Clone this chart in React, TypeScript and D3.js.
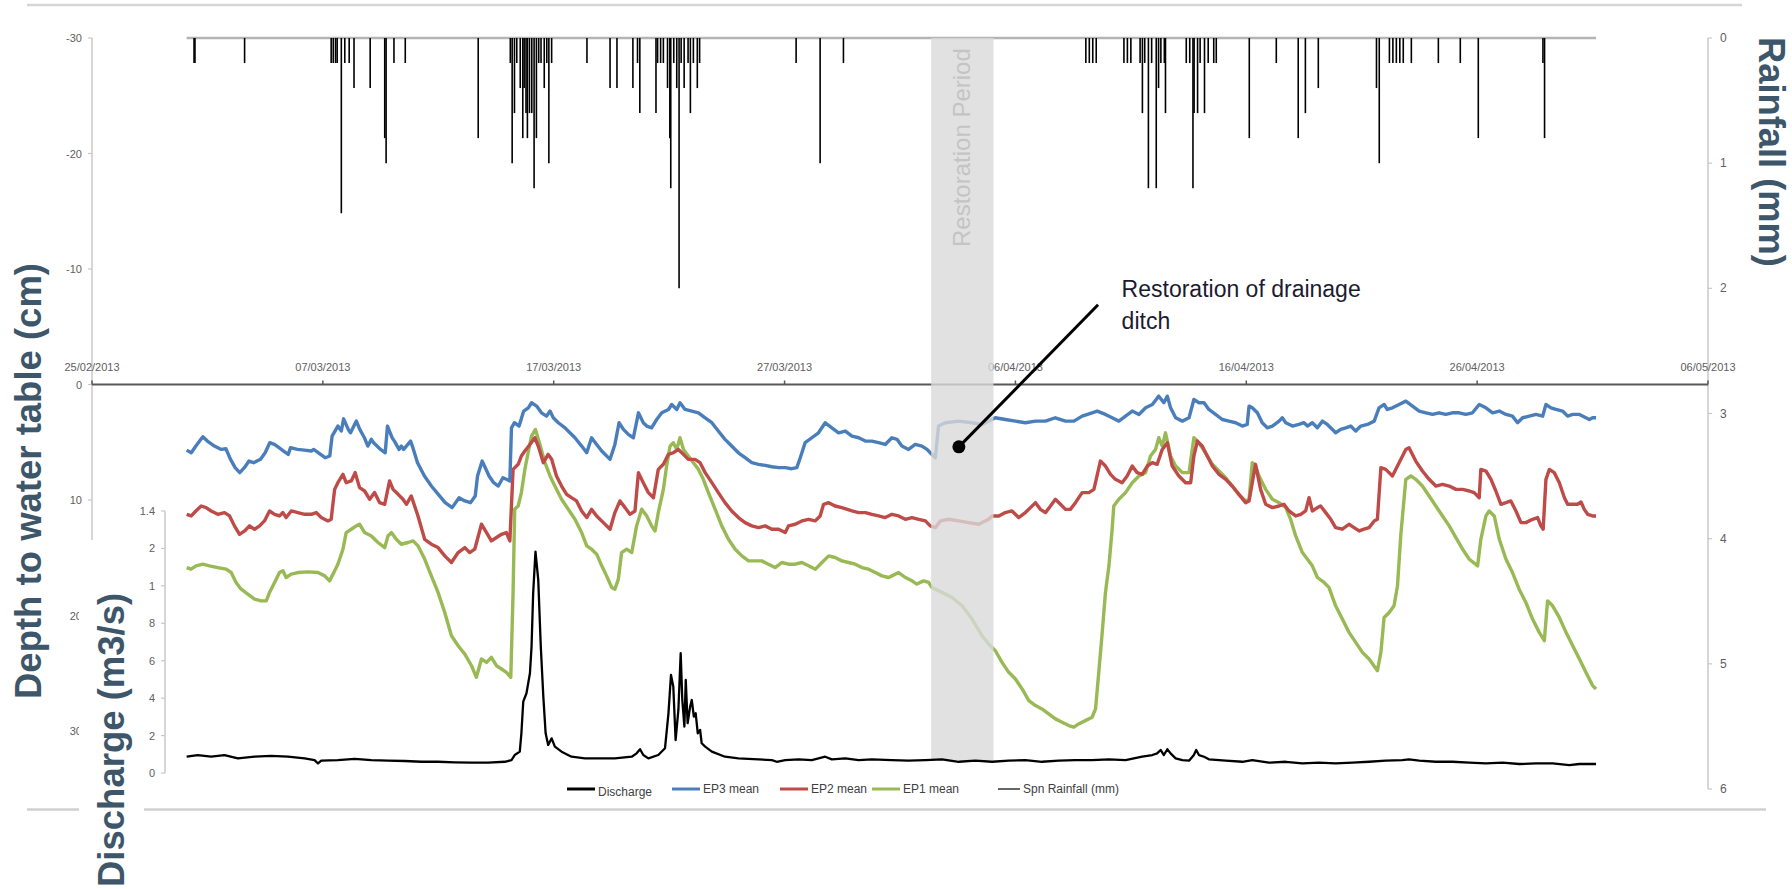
import React from "react";
import * as d3 from "d3";

type P = [number, number];

// time t = days since 01/03/2013 00:00
const dateTickLabels = ["25/02/2013", "07/03/2013", "17/03/2013", "27/03/2013", "06/04/2013", "16/04/2013", "26/04/2013", "06/05/2013"];
const depthTicks = [-30, -20, -10, 0, 10, 20, 30];
const rainTicks = [0, 1, 2, 3, 4, 5, 6];
const dischargeTicks = [0, 0.2, 0.4, 0.6, 0.8, 1.0, 1.2, 1.4];
const dischargeTickLabels = ["0", "2", "4", "6", "8", "1", "2", "1.4"];
const restorationPeriod: P = [32.35, 35.05];

const ep3: P[] = [
[0.1,5.68],[0.3,5.91],[0.5,5.33],[0.8,4.52],[1.0,4.90],[1.3,5.33],[1.6,5.62],[1.8,5.56],[2.0,6.48],[2.2,7.20],[2.4,7.63],[2.6,7.20],[2.8,6.63],[3.0,6.77],[3.3,6.48],[3.5,5.91],[3.7,5.04],[3.9,5.19],[4.1,5.47],[4.3,5.76],[4.5,6.05],[4.6,5.47],[4.9,5.62],[5.2,5.68],[5.5,5.76],[5.6,5.62],[5.9,6.05],[6.1,6.34],[6.3,6.19],[6.4,4.47],[6.65,3.60],[6.8,4.03],[6.9,2.97],[7.1,3.89],[7.2,4.18],[7.45,3.17],[7.6,3.89],[7.8,4.61],[7.95,5.33],[8.1,4.75],[8.2,5.04],[8.5,5.62],[8.7,5.91],[8.8,3.60],[9.0,4.61],[9.1,4.90],[9.3,5.62],[9.4,5.33],[9.5,5.62],[9.8,4.90],[9.9,5.47],[10.1,6.77],[10.4,7.92],[10.7,8.79],[11.0,9.51],[11.3,10.23],[11.6,10.66],[11.9,9.80],[12.15,10.08],[12.4,10.23],[12.6,9.65],[12.7,7.92],[12.9,6.63],[13.0,7.06],[13.2,7.92],[13.4,8.50],[13.6,8.79],[13.8,8.07],[13.95,8.21],[14.1,8.35],[14.17,3.75],[14.3,3.31],[14.5,3.60],[14.7,2.30],[14.9,2.02],[15.04,1.58],
[15.26,1.87],[15.47,2.45],[15.69,2.74],[15.84,2.30],[15.98,2.88],[16.2,3.31],[16.49,3.75],[16.7,4.18],[16.92,4.61],[17.21,5.33],[17.43,5.91],[17.64,4.61],[17.86,5.19],[18.08,5.76],[18.44,6.48],[18.65,5.19],[18.83,3.31],[19.02,3.89],[19.23,4.32],[19.45,4.61],[19.67,2.45],[19.88,3.31],[20.03,3.60],[20.24,3.75],[20.46,3.03],[20.68,2.45],[20.97,2.16],[21.11,1.73],[21.33,2.16],[21.47,1.58],[21.69,2.16],[21.98,2.30],[22.27,2.45],[22.56,2.88],[22.85,3.31],[23.13,4.03],[23.42,4.75],[23.71,5.33],[24.0,5.91],[24.29,6.34],[24.58,6.77],[24.87,6.91],[25.16,7.0],[25.45,7.12],[25.74,7.2],[26.03,7.2],[26.31,7.29],[26.53,7.2],[26.68,6.34],[26.89,5.04],[27.18,4.61],[27.47,4.18],[27.76,3.31],[28.05,3.75],[28.34,4.18],[28.63,4.03],[28.92,4.47],[29.21,4.61],[29.5,4.90],[29.78,4.90],[30.07,5.04],[30.36,5.19],[30.65,4.61],
[30.87,4.75],[31.08,5.33],[31.37,5.62],[31.66,5.19],[31.95,5.33],[32.17,5.62],[32.31,5.91],[32.53,6.34],[32.67,3.60],[32.96,3.31],[33.54,3.17],[34.12,3.31],[34.55,3.46],[34.84,3.17],[35.13,2.88],[35.56,3.03],[36.0,3.17],[36.43,3.31],[36.87,3.17],[37.3,3.17],[37.73,2.88],[38.17,3.17],[38.53,3.17],[38.89,2.74],[39.32,2.45],[39.54,2.30],[39.9,2.59],[40.19,2.88],[40.48,3.17],[40.77,2.74],[41.06,2.30],[41.35,2.59],[41.64,2.02],[41.93,1.73],[42.21,1.01],[42.43,1.58],[42.58,1.01],[42.72,2.02],[42.94,2.88],[43.23,3.17],[43.52,2.88],[43.73,1.30],[43.95,1.58],[44.17,1.58],[44.38,2.16],[44.67,2.59],[44.96,3.03],[45.25,3.17],[45.54,3.31],[45.83,3.60],[46.04,3.46],[46.12,1.87],[46.26,2.02],
[46.48,2.45],[46.69,3.31],[46.91,3.75],[47.13,3.60],[47.42,3.17],[47.56,2.88],[47.71,3.31],[48.0,3.60],[48.28,3.46],[48.5,3.31],[48.65,3.60],[48.86,3.31],[49.08,3.75],[49.3,3.17],[49.51,3.46],[49.73,3.89],[49.87,4.18],[50.09,3.89],[50.31,3.75],[50.52,3.60],[50.74,4.03],[50.96,3.60],[51.25,3.46],[51.54,3.17],[51.75,2.02],[51.97,1.73],[52.11,2.16],[52.33,2.02],[52.62,1.73],[52.91,1.44],[53.2,1.87],[53.49,2.30],[53.78,2.45],[54.07,2.59],[54.35,2.45],[54.64,2.59],[54.93,2.45],[55.22,2.45],[55.51,2.59],[55.8,2.45],[56.09,1.73],[56.38,2.02],[56.67,2.45],[56.96,2.30],[57.25,2.59],[57.53,2.74],[57.75,3.31],[57.97,2.88],[58.26,2.74],[58.55,2.59],[58.84,2.74],[58.98,1.73],[59.2,2.02],[59.41,2.16],[59.7,2.30],[59.92,2.74],[60.14,2.59],[60.43,2.59],[60.71,2.88],[60.86,3.03],[61.0,2.88],[61.15,2.88]
];

const ep2: P[] = [
[0.1,11.24],[0.3,11.38],[0.5,10.95],[0.73,10.52],[0.94,10.66],[1.16,10.95],[1.45,11.24],[1.74,11.09],[1.96,11.38],[2.17,12.24],[2.39,12.97],[2.61,12.68],[2.82,12.24],[3.04,12.53],[3.26,12.24],[3.47,11.81],[3.69,10.95],[3.91,11.24],[4.12,11.38],[4.27,11.09],[4.41,11.52],[4.63,10.95],[4.92,11.09],[5.21,11.24],[5.5,11.24],[5.71,11.09],[5.93,11.52],[6.22,11.81],[6.36,11.67],[6.51,9.08],[6.65,8.50],[6.87,7.78],[7.01,8.50],[7.23,8.35],[7.4,7.63],[7.59,8.93],[7.81,9.22],[8.03,9.94],[8.24,9.36],[8.46,10.23],[8.68,10.37],[8.89,8.35],[9.04,9.08],[9.26,9.51],[9.47,9.94],[9.62,10.37],[9.83,9.65],[10.12,11.38],[10.41,13.40],[10.7,13.83],[10.99,14.12],[11.28,14.84],[11.57,15.41],[11.86,14.55],[12.15,14.12],[12.36,14.55],[12.58,14.26],[12.87,12.10],[13.09,12.82],[13.3,13.54],[13.52,13.25],[13.74,12.97],[13.95,12.82],[14.1,13.54],[14.24,7.35],[14.46,6.91],[14.6,6.19],[14.75,5.76],[14.97,5.19],
[15.18,4.61],[15.33,5.33],[15.55,6.77],[15.76,6.05],[15.91,6.48],[16.12,7.92],[16.34,8.79],[16.56,9.51],[16.77,9.80],[16.99,10.08],[17.21,10.95],[17.43,11.52],[17.64,10.81],[17.86,11.38],[18.15,11.96],[18.44,12.53],[18.65,11.09],[18.87,10.08],[19.09,10.66],[19.3,11.24],[19.52,10.95],[19.67,7.63],[19.88,8.50],[20.1,9.36],[20.32,9.80],[20.53,7.35],[20.75,6.91],[20.97,6.05],[21.18,5.91],[21.4,5.62],[21.62,6.05],[21.83,6.48],[22.12,6.48],[22.34,6.77],[22.56,7.63],[22.85,8.50],[23.13,9.36],[23.42,10.23],[23.71,10.95],[24.0,11.52],[24.29,11.96],[24.58,12.24],[24.87,12.39],[25.16,12.24],[25.45,12.53],[25.74,12.53],[26.03,12.82],[26.17,12.24],[26.46,12.10],[26.75,11.81],[27.04,11.67],[27.33,11.81],[27.54,11.38],[27.69,10.37],[27.91,10.23],[28.19,10.52],[28.48,10.66],[28.92,10.95],[29.21,11.09],[29.5,11.09],[29.78,11.24],[30.07,11.38],[30.36,11.52],[30.65,11.24],
[30.94,11.38],[31.23,11.67],[31.52,11.52],[31.81,11.67],[32.1,11.81],[32.31,12.24],[32.53,12.39],[32.75,11.81],[33.11,11.67],[33.54,11.81],[33.97,11.96],[34.41,12.10],[34.84,11.67],[34.99,11.38],[35.28,11.38],[35.56,11.09],[35.85,10.95],[36.14,11.52],[36.43,11.09],[36.65,10.66],[36.87,10.23],[37.08,10.81],[37.3,11.09],[37.52,10.52],[37.73,9.94],[37.95,10.37],[38.17,10.81],[38.38,10.81],[38.6,10.23],[38.89,9.36],[39.18,9.36],[39.4,9.08],[39.68,6.63],[39.9,7.06],[40.12,7.78],[40.33,8.21],[40.62,8.50],[40.84,7.92],[41.06,7.06],[41.27,7.63],[41.49,7.78],[41.71,7.06],[41.93,6.77],[42.14,6.91],[42.36,5.62],[42.58,5.04],[42.79,7.06],[43.08,7.92],[43.37,8.50],[43.59,8.50],[43.73,6.19],[43.88,4.90],[44.09,5.33],[44.31,6.19],[44.53,7.06],[44.82,7.78],[45.11,8.21],[45.39,8.79],[45.68,9.51],[45.97,10.23],[46.12,10.08],
[46.4,6.91],[46.62,9.08],[46.84,10.37],[47.13,10.66],[47.42,10.52],[47.63,10.37],[47.85,10.95],[48.14,11.38],[48.36,11.24],[48.57,10.95],[48.72,9.80],[48.86,10.95],[49.08,10.66],[49.22,10.52],[49.44,11.09],[49.66,11.67],[49.87,12.39],[50.16,12.53],[50.45,12.10],[50.67,12.39],[50.89,12.68],[51.1,12.53],[51.32,12.39],[51.54,11.81],[51.68,11.67],[51.83,7.20],[52.04,7.35],[52.33,7.92],[52.62,6.77],[52.91,5.62],[53.05,5.47],[53.34,6.63],[53.63,7.49],[53.92,8.21],[54.21,8.79],[54.5,8.64],[54.79,8.79],[55.08,9.08],[55.37,9.08],[55.66,9.22],[55.87,9.36],[56.09,9.80],[56.16,7.35],[56.38,7.49],[56.6,8.21],[56.81,9.22],[57.03,10.37],[57.25,10.23],[57.46,10.08],[57.68,10.95],[57.9,11.96],[58.11,11.96],[58.4,11.67],[58.62,11.52],[58.76,12.24],[58.86,12.53],[58.98,8.21],[59.13,7.35],[59.34,7.63],[59.56,8.50],[59.78,9.80],[59.92,10.37],[60.14,10.37],[60.35,10.37],[60.5,10.17],[60.64,10.81],[60.79,11.24],[61.0,11.38],[61.15,11.38]
];

const ep1: P[] = [
[0.1,15.85],[0.29,15.99],[0.51,15.70],[0.8,15.56],[1.09,15.70],[1.45,15.85],[1.81,15.99],[2.03,16.28],[2.24,17.14],[2.46,17.72],[2.75,18.15],[3.04,18.58],[3.33,18.73],[3.55,18.73],[3.69,18.0],[3.91,17.14],[4.12,16.28],[4.27,16.13],[4.41,16.71],[4.63,16.42],[4.92,16.28],[5.35,16.22],[5.79,16.28],[6.08,16.57],[6.29,17.0],[6.44,16.42],[6.65,15.56],[6.87,14.26],[7.01,12.82],[7.23,12.53],[7.45,12.24],[7.59,12.10],[7.81,12.82],[8.1,13.11],[8.39,13.68],[8.68,14.12],[8.82,13.11],[8.97,12.82],[9.18,13.40],[9.4,13.83],[9.69,13.68],[9.91,13.54],[10.12,13.97],[10.41,15.11],[10.7,16.57],[10.99,18.0],[11.28,19.74],[11.57,21.75],[11.86,22.62],[12.15,23.34],[12.44,24.35],[12.65,25.35],[12.87,23.77],[13.09,24.06],[13.3,23.62],[13.52,24.35],[13.74,24.63],[13.95,24.92],[14.14,25.35],[14.24,18.0],[14.31,10.80],[14.46,10.52],[14.6,9.36],[14.75,7.35],[14.89,5.91],[15.04,4.47],
[15.21,3.89],[15.4,5.19],[15.62,6.77],[15.84,7.92],[16.05,8.79],[16.34,9.94],[16.63,10.80],[16.92,11.67],[17.21,12.82],[17.43,13.97],[17.64,14.26],[17.86,14.69],[18.08,15.70],[18.29,16.57],[18.51,17.57],[18.65,17.72],[18.8,16.85],[18.94,14.55],[19.16,14.26],[19.38,14.55],[19.59,12.24],[19.81,10.80],[20.03,11.38],[20.24,12.24],[20.39,12.68],[20.53,11.09],[20.75,9.08],[20.89,7.06],[21.04,5.33],[21.18,5.04],[21.33,5.62],[21.47,4.61],[21.62,5.62],[21.83,6.19],[22.05,6.77],[22.27,7.35],[22.48,8.21],[22.7,9.36],[22.99,10.80],[23.28,12.24],[23.57,13.40],[23.86,14.26],[24.15,14.84],[24.44,15.27],[24.72,15.27],[25.01,15.27],[25.3,15.56],[25.59,15.85],[25.88,15.41],[26.17,15.56],[26.46,15.56],[26.75,15.41],[27.04,15.70],[27.33,15.99],[27.62,15.41],[27.91,14.84],[28.19,14.98],[28.48,15.27],[28.77,15.41],[29.06,15.56],[29.35,15.85],[29.64,15.99],[29.93,16.28],[30.22,16.57],[30.51,16.71],[30.65,16.57],
[30.94,16.28],[31.23,16.71],[31.52,17.0],[31.73,17.28],[32.02,17.0],[32.24,17.14],[32.38,17.57],[32.82,18.0],[33.25,18.44],[33.69,19.16],[34.12,20.31],[34.55,21.75],[34.91,22.62],[35.13,23.05],[35.42,24.06],[35.71,24.92],[36.0,25.5],[36.29,26.36],[36.58,27.37],[36.87,27.8],[37.15,28.09],[37.44,28.52],[37.73,28.95],[38.02,29.24],[38.31,29.53],[38.53,29.67],[38.74,29.39],[39.03,29.10],[39.32,28.81],[39.47,28.09],[39.61,24.92],[39.76,21.46],[39.9,18.0],[40.05,15.70],[40.19,12.53],[40.26,10.52],[40.48,9.94],[40.77,9.36],[41.06,8.50],[41.35,7.92],[41.64,7.63],[41.85,6.19],[42.07,5.62],[42.21,4.61],[42.36,5.33],[42.5,4.18],[42.72,6.19],[42.94,7.06],[43.23,7.63],[43.52,7.63],[43.73,4.61],[43.88,4.90],[44.09,5.47],[44.31,6.19],[44.53,6.91],[44.82,7.49],[45.11,8.07],[45.39,8.79],[45.68,9.51],[45.97,10.08],[46.12,9.94],
[46.26,6.77],[46.4,7.06],[46.55,7.92],[46.84,9.08],[47.13,9.94],[47.42,10.23],[47.71,10.66],[47.92,11.67],[48.14,13.11],[48.43,14.55],[48.65,15.13],[48.86,15.70],[49.08,16.71],[49.37,17.14],[49.58,17.57],[49.87,19.16],[50.16,20.31],[50.45,21.46],[50.74,22.33],[51.03,23.19],[51.32,23.77],[51.68,24.78],[51.83,23.19],[51.97,20.17],[52.19,19.74],[52.4,19.16],[52.55,17.43],[52.69,13.11],[52.91,8.21],[53.13,7.92],[53.34,8.21],[53.63,8.79],[53.92,9.65],[54.21,10.52],[54.5,11.38],[54.79,12.24],[55.08,13.25],[55.37,14.26],[55.66,15.13],[56.02,15.70],[56.16,13.40],[56.38,11.38],[56.52,10.95],[56.74,11.38],[56.96,13.40],[57.25,15.13],[57.53,16.28],[57.82,17.72],[58.11,18.87],[58.4,20.31],[58.69,21.46],[58.91,22.18],[59.05,18.73],[59.27,19.16],[59.56,20.17],[59.85,21.46],[60.14,22.62],[60.43,23.77],[60.71,24.92],[61.0,26.07],[61.15,26.36]
];

const discharge: P[] = [
[0.1,0.087],[0.58,0.096],[1.16,0.087],[1.74,0.096],[2.32,0.078],[3.04,0.087],[3.76,0.091],[4.49,0.087],[5.21,0.078],[5.64,0.069],[5.79,0.051],[5.93,0.066],[6.65,0.069],[7.38,0.075],[8.10,0.069],[8.82,0.066],[9.54,0.064],[10.27,0.060],[10.99,0.060],[11.71,0.057],[12.44,0.055],[13.16,0.055],[13.88,0.060],[14.17,0.069],[14.31,0.096],[14.53,0.114],[14.6,0.212],[14.68,0.381],[14.82,0.426],[14.97,0.533],[15.04,0.676],[15.11,0.961],[15.21,1.183],[15.33,1.032],[15.44,0.676],[15.55,0.408],[15.65,0.212],[15.76,0.150],[15.91,0.185],[16.05,0.141],[16.34,0.114],[16.77,0.087],[17.35,0.078],[17.93,0.078],[18.65,0.078],[19.38,0.087],[19.59,0.105],[19.74,0.127],[19.88,0.096],[20.1,0.078],[20.53,0.096],[20.82,0.132],[20.97,0.319],[21.08,0.524],[21.18,0.462],[21.28,0.176],[21.4,0.337],[21.5,0.640],[21.57,0.390],[21.66,0.248],[21.72,0.497],[21.8,0.266],[21.91,0.355],[21.98,0.390],[22.07,0.301],[22.15,0.319],[22.24,0.212],[22.34,0.230],[22.41,0.159],[22.56,0.141],[22.85,0.114],[23.42,0.087],[24.0,0.078],[24.87,0.073],[25.45,0.069],[25.66,0.060],[26.03,0.069],[26.6,0.073],[27.18,0.069],[27.76,0.087],[28.05,0.073],[28.63,0.078],[29.21,0.069],[29.78,0.073],[30.65,0.069],
[31.37,0.066],[32.10,0.069],[32.82,0.073],[33.54,0.060],[34.26,0.066],[34.99,0.060],[35.71,0.066],[36.43,0.069],[37.15,0.060],[37.88,0.066],[38.60,0.069],[39.32,0.069],[40.05,0.073],[40.77,0.069],[41.49,0.087],[41.93,0.096],[42.14,0.105],[42.29,0.123],[42.43,0.096],[42.58,0.127],[42.72,0.105],[42.94,0.078],[43.23,0.069],[43.52,0.066],[43.73,0.096],[43.83,0.123],[43.95,0.096],[44.17,0.087],[44.38,0.073],[45.11,0.066],[45.83,0.060],[46.26,0.069],
[46.98,0.055],[47.71,0.060],[48.43,0.051],[49.15,0.055],[49.87,0.051],[50.60,0.055],[51.32,0.060],[52.04,0.066],[52.76,0.069],[53.05,0.073],[53.49,0.066],[54.21,0.060],[54.93,0.060],[55.66,0.055],[56.38,0.051],[57.10,0.055],[57.82,0.048],[58.55,0.051],[59.27,0.051],[59.99,0.042],[60.43,0.048],[60.71,0.048],[61.15,0.048]
];

const rainfall: P[] = [
[0.42,0.2],[0.46,0.2],[2.61,0.2],
[6.36,0.2],[6.45,0.2],[6.55,0.2],[6.62,0.2],[6.80,1.4],[6.95,0.2],[7.14,0.2],[7.35,0.4],[8.05,0.4],[8.68,0.8],[8.74,1.0],[9.08,0.2],[9.57,0.2],
[12.73,0.8],
[14.12,0.2],[14.2,1.0],[14.3,0.6],[14.4,0.2],[14.55,0.4],[14.66,0.8],[14.72,0.4],[14.8,0.6],[14.86,0.8],[14.95,0.6],[15.05,0.6],[15.15,1.2],[15.25,0.8],[15.35,0.2],[15.45,0.2],[15.59,0.4],[15.7,0.2],[15.79,1.0],[15.91,0.2],
[17.44,0.2],[18.44,0.4],[18.74,0.4],[19.43,0.4],[19.63,0.2],[19.73,0.6],
[20.43,0.6],[20.5,0.2],[20.63,0.2],[20.75,0.2],[20.93,0.4],[21.03,0.8],[21.07,1.2],[21.2,0.2],[21.33,0.4],[21.43,2.0],[21.52,0.2],[21.65,0.4],[21.82,0.2],[21.92,0.6],[22.05,0.2],[22.22,0.4],[22.32,0.2],
[26.50,0.2],[27.54,1.0],[28.55,0.2],
[39.05,0.2],[39.2,0.2],[39.35,0.2],[39.5,0.2],
[40.7,0.2],[40.85,0.2],[41.0,0.2],
[41.4,0.2],[41.5,0.6],[41.6,0.2],[41.76,1.2],[41.9,0.2],[42.1,1.2],[42.2,0.4],[42.3,0.2],[42.45,0.2],[42.5,0.6],
[43.4,0.2],[43.55,0.2],[43.69,1.2],[43.74,0.6],[43.89,0.6],[44.0,0.2],[44.19,0.6],[44.35,0.2],[44.59,0.2],[44.7,0.2],
[46.13,0.8],[47.3,0.2],[48.25,0.8],[48.56,0.6],[49.12,0.4],
[51.64,0.4],[51.76,1.0],
[52.2,0.2],[52.35,0.2],[52.5,0.2],[52.65,0.2],[52.8,0.2],[53.15,0.2],
[54.32,0.2],[55.27,0.2],[56.05,0.8],[58.85,0.2],[58.92,0.8]
];

const legendNames = ["Discharge", "EP3 mean", "EP2 mean", "EP1 mean", "Spn Rainfall (mm)"];
const legendColors = ["#000000", "#4a7ebb", "#be4b48", "#98b954", "#000000"];

// annotation anchors in data coordinates (t, depth)
const annotTarget: P = [33.55, 5.4];
const annotStart: P = [39.58, -6.9];
const annotLabelAt: P = [40.6, -7.6];

const W = 1792, H = 889;
const FONT = "'Liberation Sans', Arial, Helvetica, sans-serif";
const TITLE = "#3d566a";
const T0 = Date.UTC(2013, 2, 1);
const toDate = (t: number) => new Date(T0 + t * 86400000);
const parseDay = d3.utcParse("%d/%m/%Y");

export default function App() {
  const x = d3.scaleUtc().domain([parseDay("25/02/2013")!, parseDay("06/05/2013")!]).range([92, 1708]);
  const yDepth = d3.scaleLinear().domain([-30, 30]).range([38, 731]);
  const yRain = d3.scaleLinear().domain([0, 6]).range([38, 789]);
  const yQ = d3.scaleLinear().domain([0, 1.4]).range([773, 511]);
  const xt = (t: number) => x(toDate(t));

  const depthLine = d3.line<P>().x(d => xt(d[0])).y(d => yDepth(d[1]));
  const qLine = d3.line<P>().x(d => xt(d[0])).y(d => yQ(d[1]));

  const axisX = yDepth(0);
  const dataStart = xt(d3.min(ep3, d => d[0])!);
  const bandX0 = xt(restorationPeriod[0]);
  const bandX1 = xt(restorationPeriod[1]);

  const legendX = [567, 672, 780, 872, 998];
  const legendY = 789;

  return (
    <svg width={W} height={H} viewBox={`0 0 ${W} ${H}`} style={{ position: "absolute", left: 0, top: 0, background: "#fff" }} fontFamily={FONT}>
      <rect x={0} y={0} width={W} height={H} fill="#ffffff" />
      {/* frame lines */}
      <line x1={27} x2={1742} y1={5} y2={5} stroke="#d6d6d6" strokeWidth={2.5} />
      <line x1={27} x2={1766} y1={809.5} y2={809.5} stroke="#d0d0d0" strokeWidth={2.5} />

      {/* left depth axis */}
      <line x1={92} x2={92} y1={yDepth(-30)} y2={yDepth(30)} stroke="#c8c8c8" strokeWidth={1.5} />
      {depthTicks.map(v => (
        <g key={"dt" + v}>
          <line x1={88} x2={92} y1={yDepth(v)} y2={yDepth(v)} stroke="#c8c8c8" strokeWidth={1.2} />
          <text x={82} y={yDepth(v) + 4} fontSize={11} fill="#606060" textAnchor="end">{v}</text>
        </g>
      ))}

      {/* right rainfall axis */}
      <line x1={1708} x2={1708} y1={yRain(0)} y2={yRain(6)} stroke="#c8c8c8" strokeWidth={1.5} />
      {rainTicks.map(v => (
        <g key={"rt" + v}>
          <line x1={1708} x2={1712} y1={yRain(v)} y2={yRain(v)} stroke="#c8c8c8" strokeWidth={1.2} />
          <text x={1720} y={yRain(v) + 4} fontSize={12} fill="#606060">{v}</text>
        </g>
      ))}

      {/* rainfall baseline and bars */}
      <line x1={dataStart} x2={xt(61.15)} y1={yRain(0)} y2={yRain(0)} stroke="#b4b4b4" strokeWidth={2.5} />
      {rainfall.map((d, i) => (
        <line key={"r" + i} x1={xt(d[0])} x2={xt(d[0])} y1={yRain(0)} y2={yRain(d[1])} stroke="#000" strokeWidth={1.6} />
      ))}

      {/* date axis */}
      {dateTickLabels.map(s => {
        const px = x(parseDay(s)!);
        return (
          <g key={s}>
            <line x1={px} x2={px} y1={axisX - 4} y2={axisX} stroke="#595959" strokeWidth={1.5} />
            <text x={px} y={371} fontSize={11} fill="#606060" textAnchor="middle">{s}</text>
          </g>
        );
      })}
      <line x1={92} x2={1708} y1={axisX} y2={axisX} stroke="#595959" strokeWidth={2} />

      {/* water table series */}
      <path d={depthLine(ep1)!} fill="none" stroke={legendColors[3]} strokeWidth={3.4} strokeLinejoin="round" />
      <path d={depthLine(ep2)!} fill="none" stroke={legendColors[2]} strokeWidth={3.4} strokeLinejoin="round" />
      <path d={depthLine(ep3)!} fill="none" stroke={legendColors[1]} strokeWidth={3.4} strokeLinejoin="round" />

      {/* restoration band */}
      <rect x={bandX0} y={yRain(0)} width={bandX1 - bandX0} height={760 - yRain(0)} fill="#d9d9d9" opacity={0.8} />
      <text transform={`translate(970,247) rotate(-90)`} fontSize={24} fill="#c4c4c4">Restoration Period</text>

      {/* discharge */}
      <path d={qLine(discharge)!} fill="none" stroke="#000" strokeWidth={2.3} strokeLinejoin="round" />

      {/* white box behind discharge title */}
      <rect x={79} y={540} width={65} height={H - 540} fill="#ffffff" />

      {/* discharge axis */}
      <line x1={165} x2={165} y1={yQ(1.4)} y2={yQ(0)} stroke="#c8c8c8" strokeWidth={1.5} />
      {dischargeTicks.map((v, i) => (
        <g key={"qt" + i}>
          <line x1={161} x2={165} y1={yQ(v)} y2={yQ(v)} stroke="#c8c8c8" strokeWidth={1.2} />
          <text x={155} y={yQ(v) + 4} fontSize={11} fill="#606060" textAnchor="end">{dischargeTickLabels[i]}</text>
        </g>
      ))}

      {/* axis titles */}
      <text transform={`translate(41,699) rotate(-90)`} fontSize={36.5} fontWeight="bold" fill={TITLE}>Depth to water table (cm)</text>
      <text transform={`translate(124,887) rotate(-90)`} fontSize={36.5} fontWeight="bold" fill={TITLE}>Discharge (m3/s)</text>
      <text transform={`translate(1759,37) rotate(90)`} fontSize={36.3} fontWeight="bold" fill={TITLE}>Rainfall (mm)</text>

      {/* annotation */}
      <line x1={xt(annotStart[0])} y1={yDepth(annotStart[1])} x2={xt(annotTarget[0])} y2={yDepth(annotTarget[1])} stroke="#000" strokeWidth={3} />
      <circle cx={xt(annotTarget[0])} cy={yDepth(annotTarget[1])} r={6.5} fill="#000" />
      <text x={xt(annotLabelAt[0])} y={yDepth(annotLabelAt[1])} fontSize={23} fill="#1b1b30">
        <tspan x={xt(annotLabelAt[0])} dy={0}>Restoration of drainage</tspan>
        <tspan x={xt(annotLabelAt[0])} dy={32}>ditch</tspan>
      </text>

      {/* legend */}
      {legendNames.map((n, i) => (
        <g key={n}>
          <line x1={legendX[i]} x2={legendX[i] + (i === 4 ? 22 : 28)} y1={legendY} y2={legendY} stroke={legendColors[i]} strokeWidth={i === 4 ? 1.2 : 3} />
          <text x={legendX[i] + (i === 4 ? 25 : 31)} y={legendY + (i === 0 ? 7 : 4)} fontSize={12} fill="#404040">{n}</text>
        </g>
      ))}
    </svg>
  );
}
